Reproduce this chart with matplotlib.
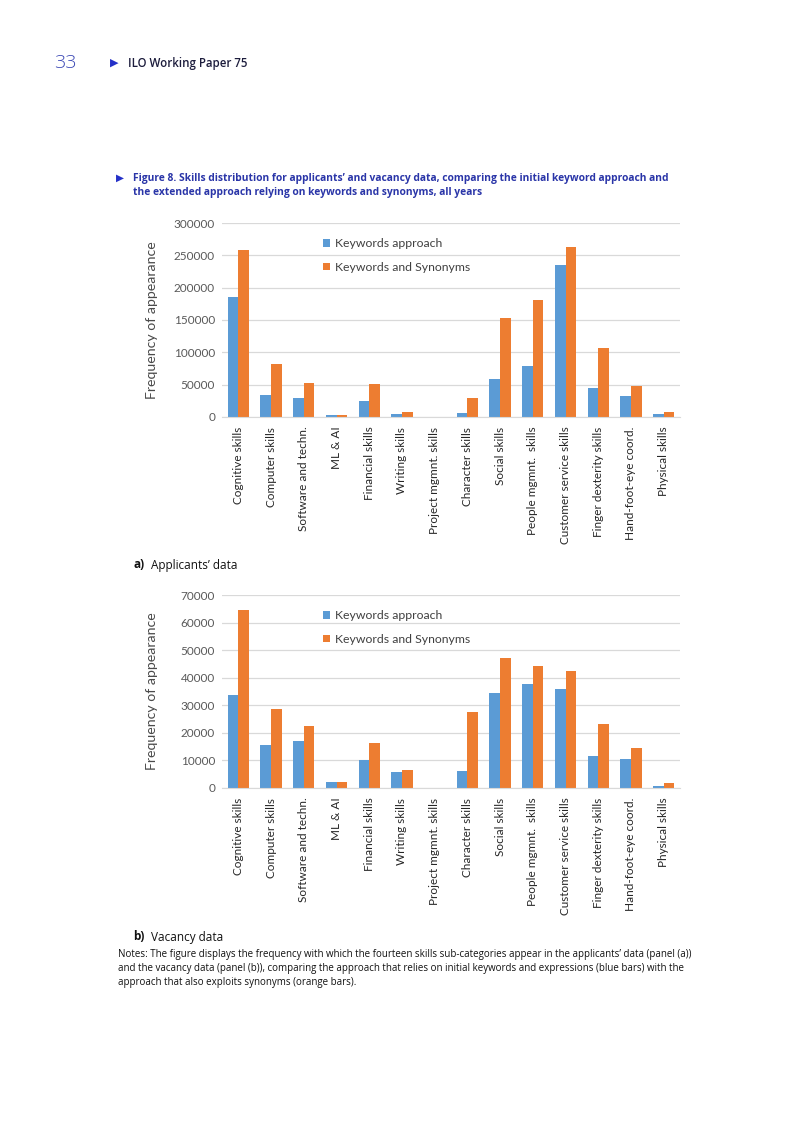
import matplotlib
matplotlib.use("Agg")
import matplotlib.pyplot as plt
from matplotlib.patches import Patch

categories = ["Cognitive skills", "Computer skills", "Software and techn.", "ML & AI",
              "Financial skills", "Writing skills", "Project mgmnt. skills", "Character skills",
              "Social skills", "People mgmnt.  skills", "Customer service skills",
              "Finger dexterity skills", "Hand-foot-eye coord.", "Physical skills"]

app_keywords = [186000, 34200, 30000, 3100, 24900, 5200, 0, 6200, 58500, 78800, 235800, 45600, 32100, 4100]
app_synonyms = [258500, 82400, 52300, 3100, 50300, 7300, 0, 29000, 153400, 180800, 262700, 106200, 48700, 7300]

vac_keywords = [33900, 15500, 17000, 2300, 10250, 5900, 0, 6150, 34400, 37800, 36000, 11450, 10360, 720]
vac_synonyms = [64400, 28650, 22400, 2300, 16400, 6400, 0, 27600, 47000, 44100, 42400, 23250, 14340, 1930]

app_ticks = [0, 50000, 100000, 150000, 200000, 250000, 300000]
vac_ticks = [0, 10000, 20000, 30000, 40000, 50000, 60000, 70000]

series_names = ["Keywords approach", "Keywords and Synonyms"]
BLUE = "#5B9BD5"
ORANGE = "#ED7D31"

W, H = 793, 1122
fig = plt.figure(figsize=(W / 100, H / 100), dpi=100)

CH = "Lato"
PG = "Open Sans"


def fx(px):
    return px / W


def fy(py):
    return 1 - py / H


def panel(top, bottom, kw, syn, ticks):
    ax = fig.add_axes([fx(222), fy(bottom), fx(680) - fx(222), fy(top) - fy(bottom)])
    x = list(range(len(categories)))
    w = 0.325
    ax.bar([i - w / 2 for i in x], kw, width=w, color=BLUE, zorder=3)
    ax.bar([i + w / 2 for i in x], syn, width=w, color=ORANGE, zorder=3)
    ax.set_xlim(-0.5, len(categories) - 0.5)
    ax.set_ylim(ticks[0], ticks[-1])
    ax.set_yticks(ticks)
    ax.set_yticklabels([str(t) for t in ticks], fontsize=8.5, color="#595959", family=CH)
    ax.set_xticks(x)
    ax.set_xticklabels(categories, rotation=90, fontsize=8.5, color="#262626", family=CH,
                       ha="center", va="top")
    ax.tick_params(axis="both", length=0, pad=5)
    ax.tick_params(axis="x", pad=7)
    for s in ["top", "right", "left"]:
        ax.spines[s].set_visible(False)
    ax.spines["bottom"].set_color("#D9D9D9")
    ax.spines["bottom"].set_zorder(4)
    ax.grid(axis="y", color="#D9D9D9", linewidth=0.9, zorder=0)
    ax.set_axisbelow(True)
    ax.set_ylabel("Frequency of appearance", fontsize=10.2, color="#4A4A4A", family=CH)
    ax.yaxis.set_label_coords((158 - 222) / 458, 0.5)
    handles = [Patch(facecolor=BLUE, edgecolor="none"), Patch(facecolor=ORANGE, edgecolor="none")]
    ax.legend(handles, series_names, loc="upper left", bbox_to_anchor=((312 - 222) / 458, 1 - 4 / (bottom - top)),
              frameon=False, handlelength=0.6, handleheight=0.6, handletextpad=0.4,
              labelspacing=1.05, prop={"family": CH, "size": 8.8}, labelcolor="#404040")
    return ax


panel(223, 417, app_keywords, app_synonyms, app_ticks)
panel(595, 788, vac_keywords, vac_synonyms, vac_ticks)

# Page header
fig.text(fx(54), fy(63), "33", fontsize=14, color="#3B48B5", family=PG, va="center", fontweight="light")
fig.text(fx(110), fy(63), "\u25B6", fontsize=8, color="#2430C8", family="DejaVu Sans", va="center")
fig.text(fx(128), fy(63), "ILO Working Paper 75", fontsize=8.3, color="#1C1C3C", family=PG,
         va="center", fontweight="semibold")

# Figure caption
CAP = "#2A35A8"
fig.text(fx(116), fy(178), "\u25B6", fontsize=7.5, color="#2430C8", family="DejaVu Sans", va="center")
fig.text(fx(133), fy(178), "Figure 8. Skills distribution for applicants\u2019 and vacancy data, comparing the initial keyword approach and",
         fontsize=7.35, color=CAP, family=PG, fontweight="bold", va="center")
fig.text(fx(133), fy(192), "the extended approach relying on keywords and synonyms, all years",
         fontsize=7.35, color=CAP, family=PG, fontweight="bold", va="center")

# Panel labels
fig.text(fx(133), fy(565), "a)", fontsize=8.5, color="#111111", family=PG, fontweight="bold", va="center")
fig.text(fx(151), fy(565), "Applicants\u2019 data", fontsize=8.5, color="#111111", family=PG, va="center")
fig.text(fx(133), fy(937), "b)", fontsize=8.5, color="#111111", family=PG, fontweight="bold", va="center")
fig.text(fx(151), fy(937), "Vacancy data", fontsize=8.5, color="#111111", family=PG, va="center")

notes = ["Notes: The figure displays the frequency with which the fourteen skills sub-categories appear in the applicants\u2019 data (panel (a))",
         "and the vacancy data (panel (b)), comparing the approach that relies on initial keywords and expressions (blue bars) with the",
         "approach that also exploits synonyms (orange bars)."]
for i, line in enumerate(notes):
    fig.text(fx(118), fy(955 + 14 * i), line, fontsize=7.0, color="#111111", family=PG, va="center")

fig.savefig("out.png", dpi=100)
